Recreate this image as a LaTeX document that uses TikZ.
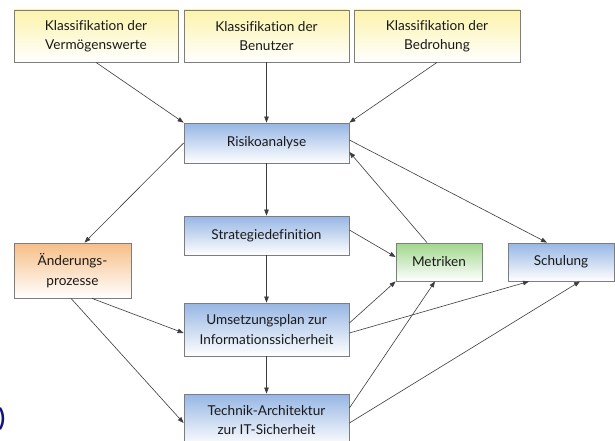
\documentclass[tikz,border=0pt]{standalone}
\usepackage{fontspec}
\setmainfont{Lato}[Ligatures={NoCommon}]
\usepackage{tikz}
\usetikzlibrary{arrows.meta}
\definecolor{boxline}{RGB}{125, 125, 125}
\definecolor{arrowgray}{RGB}{60, 60, 60}
\definecolor{inyellow}{RGB}{252, 243, 170}
\definecolor{inblue}{RGB}{150, 182, 228}
\definecolor{ingreen}{RGB}{160, 215, 140}
\definecolor{inorange}{RGB}{247, 190, 135}
\definecolor{darknavy}{RGB}{20, 20, 120}

\begin{document}
\begin{tikzpicture}[x=1pt, y=-1pt, font=\fontsize{13.6}{19.5}\selectfont,
    >={Triangle[length=6pt, width=4.5pt]},
    box/.style={draw=boxline, line width=0.8pt, align=center, inner sep=2pt,
                text=black!90, bottom color=white},
    input/.style={box, top color=inyellow, minimum height=52pt},
    stepbox/.style={box, top color=inblue},
    result/.style={box, top color=ingreen},
    change/.style={box, top color=inorange},
    link/.style={->, arrowgray, line width=0.6pt}]
  \clip (0, 0) rectangle (615, 441);
  \fill[white] (0, 0) rectangle (615, 441);

  \node[input, minimum width=164pt] (k1) at (96, 36)    {Klassifikation der\\Vermögenswerte};
  \node[input, minimum width=165pt] (k2) at (266.5, 36) {Klassifikation der\\Benutzer};
  \node[input, minimum width=166pt] (k3) at (437, 36)   {Klassifikation der\\Bedrohung};

  \node[stepbox, minimum width=165pt, minimum height=40pt] (ris) at (266.5, 143)   {Risikoanalyse};
  \node[stepbox, minimum width=165pt, minimum height=39pt] (str) at (266.5, 235.5) {Strategiedefinition};
  \node[stepbox, minimum width=165pt, minimum height=53pt] (ums) at (266.5, 329.5) {Umsetzungsplan zur\\Informationssicherheit};
  \node[stepbox, minimum width=165pt, minimum height=52pt] (tec) at (266.5, 420)   {Technik-Architektur\\zur IT-Sicherheit};
  \node[change, minimum width=117pt, minimum height=55pt] (aen) at (72.5, 270.5) {Änderungs-\\prozesse};
  \node[result, minimum width=86pt, minimum height=38pt] (met) at (439, 262) {Metriken};
  \node[stepbox, minimum width=106pt, minimum height=38pt] (sch) at (561, 262) {Schulung};

  \node[text=darknavy, font=\fontsize{24}{24}\selectfont\bfseries] (rest) at (2, 419) {)};

  % classifications -> risk analysis
  \draw[link] (k1.south) -- (ris.north west);
  \draw[link] (k2.south) -- (ris.north);
  \draw[link] (k3.south) -- (ris.north east);

  % main chain
  \draw[link] (ris.south) -- (str.north);
  \draw[link] (str.south) -- (ums.north);
  \draw[link] (ums.south) -- (tec.north);

  % risk analysis <-> side boxes
  \draw[link] (ris.west) -- ([xshift=12pt]aen.north);
  \draw[link] ([xshift=-12pt]met.north) -- ([yshift=-9pt]ris.east);
  \draw[link] ([yshift=3pt]ris.east) -- ([xshift=-14pt]sch.north);
  \draw[link] ([yshift=5.5pt]str.east) -- ([yshift=5pt]met.west);

  % change processes
  \draw[link] ([xshift=19.5pt]aen.south) -- ([yshift=-3.5pt]ums.west);
  \draw[link] ([xshift=-1.5pt]aen.south) -- ([yshift=-3pt]tec.west);

  % plan and architecture -> metrics, training
  \draw[link] ([yshift=6.5pt]ums.east) -- (met.south west);
  \draw[link] ([yshift=12pt]tec.east) -- ([xshift=-4pt]met.south);
  \draw[link] ([yshift=-3.5pt]ums.east) -- ([xshift=-32pt]sch.south);
  \draw[link] ([yshift=-3pt]tec.east) -- ([xshift=19pt]sch.south);
\end{tikzpicture}
\end{document}
